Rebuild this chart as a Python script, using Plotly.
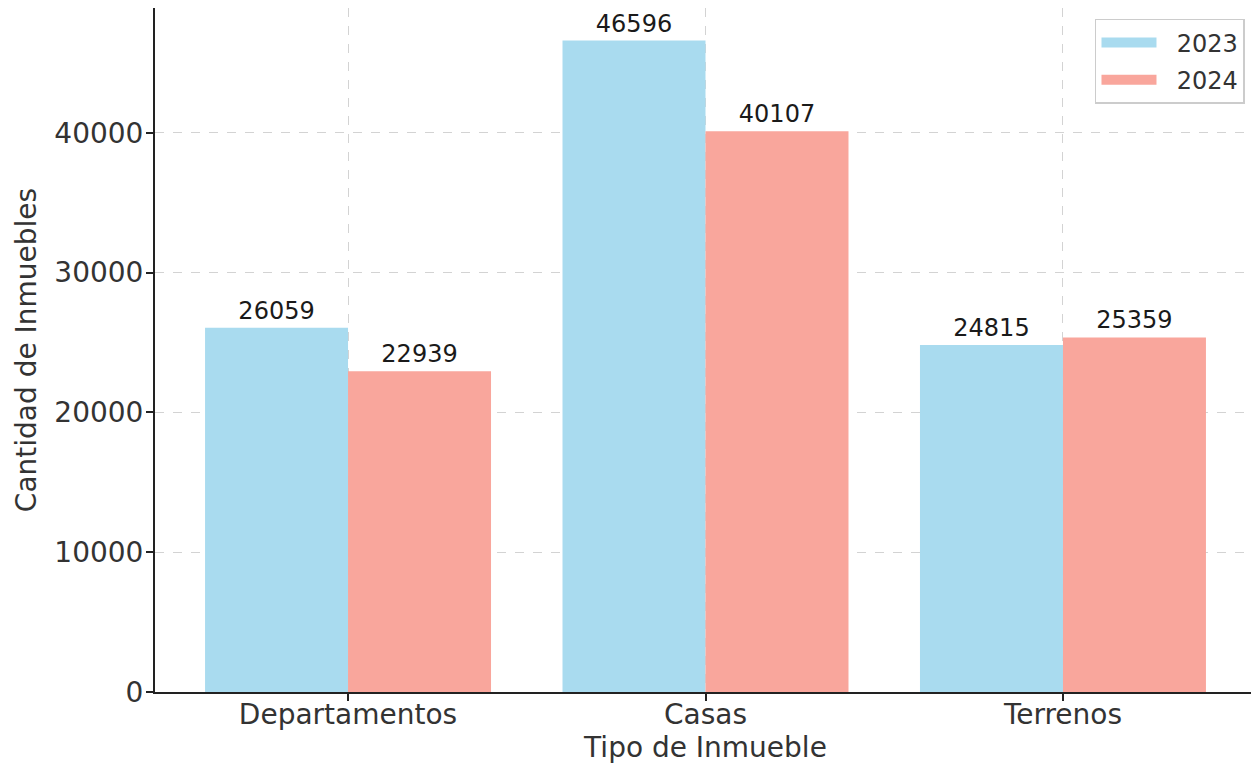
import plotly.graph_objects as go

categories = ["Departamentos", "Casas", "Terrenos"]
years = ["2023", "2024"]
values_2023 = [26059, 46596, 24815]
values_2024 = [22939, 40107, 25359]
y_ticks = [0, 10000, 20000, 30000, 40000]

colors = {"2023": "#A9DBEF", "2024": "#F9A69C"}
font_family = "DejaVu Sans"
text_color = "#333333"

fig = go.Figure()
for yr, vals in zip(years, [values_2023, values_2024]):
    fig.add_trace(go.Bar(
        name=yr,
        x=categories,
        y=vals,
        marker=dict(color=colors[yr], line=dict(width=0)),
        text=[str(v) for v in vals],
        textposition="outside",
        textfont=dict(size=24, color="#1a1a1a", family=font_family),
        cliponaxis=False,
        legendgroup=yr,
        showlegend=False,
    ))
# legend entries (no visible data) with wide patches
for yr in years:
    fig.add_trace(go.Scatter(
        name="\u00a0\u00a0" + yr,
        x=[None], y=[None],
        mode="lines",
        line=dict(color=colors[yr], width=10),
        legendgroup=yr,
        showlegend=True,
        hoverinfo="skip",
    ))

fig.update_layout(
    width=1251,
    height=761,
    margin=dict(l=147, r=3, t=0, b=77),
    barmode="group",
    bargap=0.2,
    bargroupgap=0,
    plot_bgcolor="white",
    paper_bgcolor="white",
    font=dict(family=font_family, size=28, color=text_color),
    legend=dict(
        x=0.990, y=0.984, xanchor="right", yanchor="top",
        bordercolor="#cccccc", borderwidth=1.5,
        bgcolor="rgba(255,255,255,0.8)",
        font=dict(size=24, color=text_color),
        itemwidth=55,
        tracegroupgap=3,
    ),
    showlegend=True,
)

fig.update_xaxes(
    range=[-0.54, 2.54],
    showline=True, linecolor="#222222", linewidth=2,
    ticks="outside", ticklen=7, tickwidth=2, tickcolor="#222222",
    ticklabelstandoff=-11,
    showgrid=True, gridcolor="#d3d3d3", griddash="dash", gridwidth=1,
    title=dict(text="Tipo de Inmueble", font=dict(size=28, color=text_color), standoff=3),
    tickfont=dict(size=28, color=text_color),
    automargin=False,
)
fig.update_yaxes(
    range=[0, 48926],
    tickvals=y_ticks,
    ticktext=[str(t) for t in y_ticks],
    showline=True, linecolor="#222222", linewidth=2,
    ticks="outside", ticklen=7, tickwidth=2, tickcolor="#222222",
    ticklabelstandoff=-3,
    showgrid=True, gridcolor="#d3d3d3", griddash="dash", gridwidth=1,
    zeroline=False,
    title=dict(text="Cantidad de Inmuebles", font=dict(size=28, color=text_color), standoff=10),
    tickfont=dict(size=28, color=text_color),
    automargin=False,
)

fig.write_html("out.html")
